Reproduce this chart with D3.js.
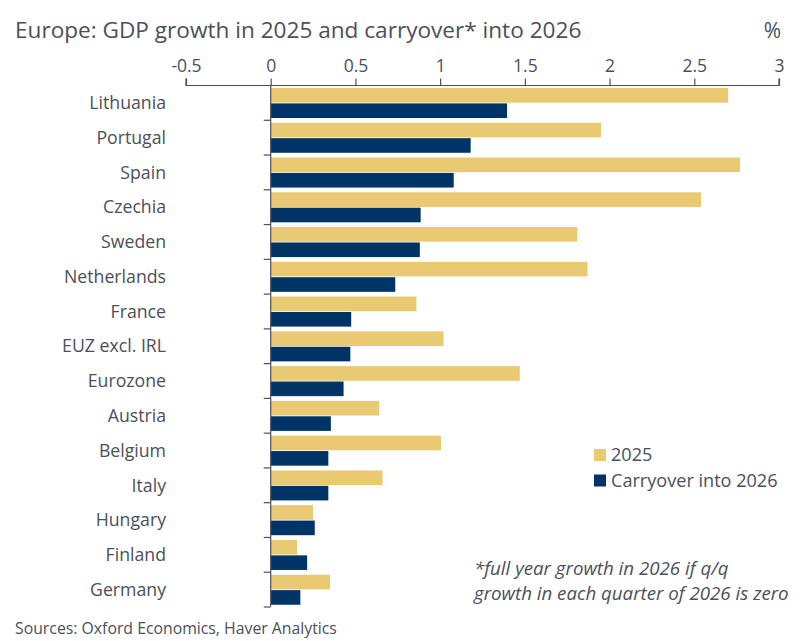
<!DOCTYPE html>
<html>
<head>
<meta charset="utf-8">
<script src="https://cdn.jsdelivr.net/npm/d3@7"></script>
<style>
  html, body { margin: 0; padding: 0; background: #fff; }
  svg { display: block; }
  text { font-family: "Open Sans", sans-serif; fill: #4b5059; }
</style>
</head>
<body>
<svg id="chart" width="800" height="641"></svg>
<script>
// values
var countries = ["Lithuania", "Portugal", "Spain", "Czechia", "Sweden", "Netherlands", "France",
  "EUZ excl. IRL", "Eurozone", "Austria", "Belgium", "Italy", "Hungary", "Finland", "Germany"];
var growth2025 = [2.70, 1.95, 2.77, 2.54, 1.81, 1.87, 0.86, 1.02, 1.47, 0.64, 1.005, 0.66, 0.25, 0.155, 0.35];
var carryover2026 = [1.395, 1.18, 1.08, 0.885, 0.88, 0.735, 0.475, 0.47, 0.43, 0.355, 0.34, 0.34, 0.26, 0.215, 0.175];
var xTicks = [-0.5, 0, 0.5, 1, 1.5, 2, 2.5, 3];
var seriesNames = ["2025", "Carryover into 2026"];
var seriesValues = [growth2025, carryover2026];
var seriesColors = ["#e9c971", "#003366"];
var axisColor = "#4b5059";

var svg = d3.select("#chart");

var x = d3.scaleLinear().domain([-0.5, 3]).range([186, 779]);
var y = d3.scaleBand().domain(countries).range([85, 606.5]);
// two bars inside each country band
var yInner = d3.scaleBand().domain(seriesNames).range([3, 33]).paddingInner(0.05);

// bars
seriesNames.forEach(function (name, s) {
  svg.append("g")
    .selectAll("rect")
    .data(seriesValues[s])
    .enter()
    .append("rect")
    .attr("x", x(0))
    .attr("y", function (d, i) { return y(countries[i]) + yInner(name); })
    .attr("width", function (d) { return x(d) - x(0); })
    .attr("height", yInner.bandwidth())
    .attr("fill", seriesColors[s]);
});

// top axis
var xAxis = svg.append("g")
  .attr("transform", "translate(0,85.5)")
  .call(d3.axisTop(x).tickValues(xTicks).tickSize(7).tickPadding(7).tickFormat(function (d) { return d; }));
xAxis.selectAll("path, line").attr("stroke", axisColor).attr("stroke-width", 1.2);
xAxis.select(".domain").attr("d", "M" + x(-0.5) + ",-7V0H" + x(3) + "V-7");
xAxis.selectAll("text").style("font-size", "17.5px").attr("fill", axisColor);

// vertical axis at zero, ticks fall between the countries
var edges = d3.scalePoint().domain(d3.range(countries.length + 1)).range([85, 606.5]);
var yAxis = svg.append("g")
  .attr("transform", "translate(" + x(0) + ",0)")
  .call(d3.axisLeft(edges).tickValues(d3.range(1, countries.length + 1)).tickSize(7).tickFormat(""));
yAxis.selectAll("path, line").attr("stroke", axisColor).attr("stroke-width", 1.2);
yAxis.select(".domain").attr("d", "M0,85V606.5");

// country labels
svg.append("g")
  .selectAll("text")
  .data(countries)
  .enter()
  .append("text")
  .attr("x", 166)
  .attr("y", function (d) { return y(d) + y.bandwidth() / 2 + 0.5; })
  .attr("dy", "0.35em")
  .attr("text-anchor", "end")
  .style("font-size", "17.7px")
  .text(function (d) { return d; });

// title and unit
svg.append("text").attr("x", 15).attr("y", 38).style("font-size", "22.6px")
  .text("Europe: GDP growth in 2025 and carryover* into 2026");
svg.append("text").attr("x", 781).attr("y", 38).attr("text-anchor", "end").style("font-size", "21px").text("%");

// legend
seriesNames.forEach(function (name, s) {
  var top = 449 + s * 25.5;
  svg.append("rect").attr("x", 594).attr("y", top).attr("width", 12).attr("height", 12).attr("fill", seriesColors[s]);
  svg.append("text").attr("x", 611).attr("y", top + 12).style("font-size", "18.1px").text(name);
});

// footnote and source
svg.append("text").attr("x", 474).attr("y", 575).style("font-size", "18.7px").style("font-style", "italic")
  .text("*full year growth in 2026 if q/q");
svg.append("text").attr("x", 474).attr("y", 600).style("font-size", "18.7px").style("font-style", "italic")
  .text("growth in each quarter of 2026 is zero");
svg.append("text").attr("x", 15).attr("y", 634).style("font-size", "15.8px")
  .text("Sources: Oxford Economics, Haver Analytics");
</script>
</body>
</html>
